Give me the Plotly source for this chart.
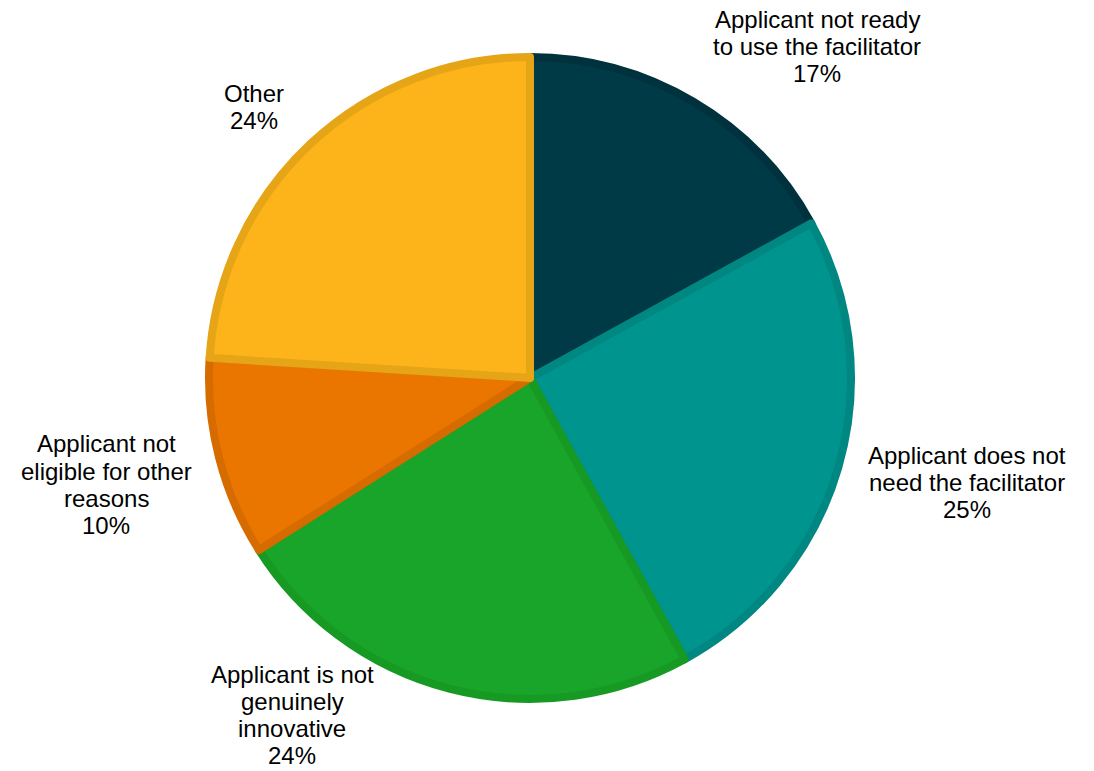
import plotly.graph_objects as go

# Reasons an applicant did not go on to use the facilitator
labels = [
    "Applicant not ready<br>to use the facilitator",
    "Applicant does not<br>need the facilitator",
    "Applicant is not<br>genuinely<br>innovative",
    "Applicant not<br>eligible for other<br>reasons",
    "Other",
]
shares = [17, 25, 24, 10, 24]
fill_colors = ["#003A47", "#00948F", "#18A52A", "#EA7600", "#FDB41A"]
edge_colors = ["#00323D", "#008781", "#169A23", "#D66C00", "#E6A417"]

# centre of each label's first line, in pixels from the top-left
label_px = [817, 967, 292, 106, 254]
label_py = [19, 455, 674, 444, 93]
LINE_GAP = 27

W, H = 1094, 771
cx, cy, r = 530, 378, 321

fig = go.Figure(
    go.Pie(
        labels=[l.replace("<br>", " ") for l in labels],
        values=shares,
        sort=False,
        direction="clockwise",
        rotation=0,
        textinfo="none",
        hoverinfo="label+percent",
        marker=dict(colors=fill_colors, line=dict(color=edge_colors, width=8)),
        domain=dict(
            x=[(cx - r) / W, (cx + r) / W],
            y=[(H - cy - r) / H, (H - cy + r) / H],
        ),
        showlegend=False,
    )
)

for lab, val, px, py in zip(labels, shares, label_px, label_py):
    lines = lab.split("<br>") + [f"{val}%"]
    for i, line in enumerate(lines):
        fig.add_annotation(
            x=px / W,
            y=1 - (py + i * LINE_GAP) / H,
            xref="paper", yref="paper",
            text=line,
            showarrow=False,
            xanchor="center",
            yanchor="middle",
            borderpad=0,
            font=dict(family="Liberation Sans, Arial, sans-serif", size=24, color="#000000"),
        )

fig.update_layout(
    width=W,
    height=H,
    margin=dict(l=0, r=0, t=0, b=0),
    paper_bgcolor="white",
    plot_bgcolor="white",
)

fig.write_html("out.html")
